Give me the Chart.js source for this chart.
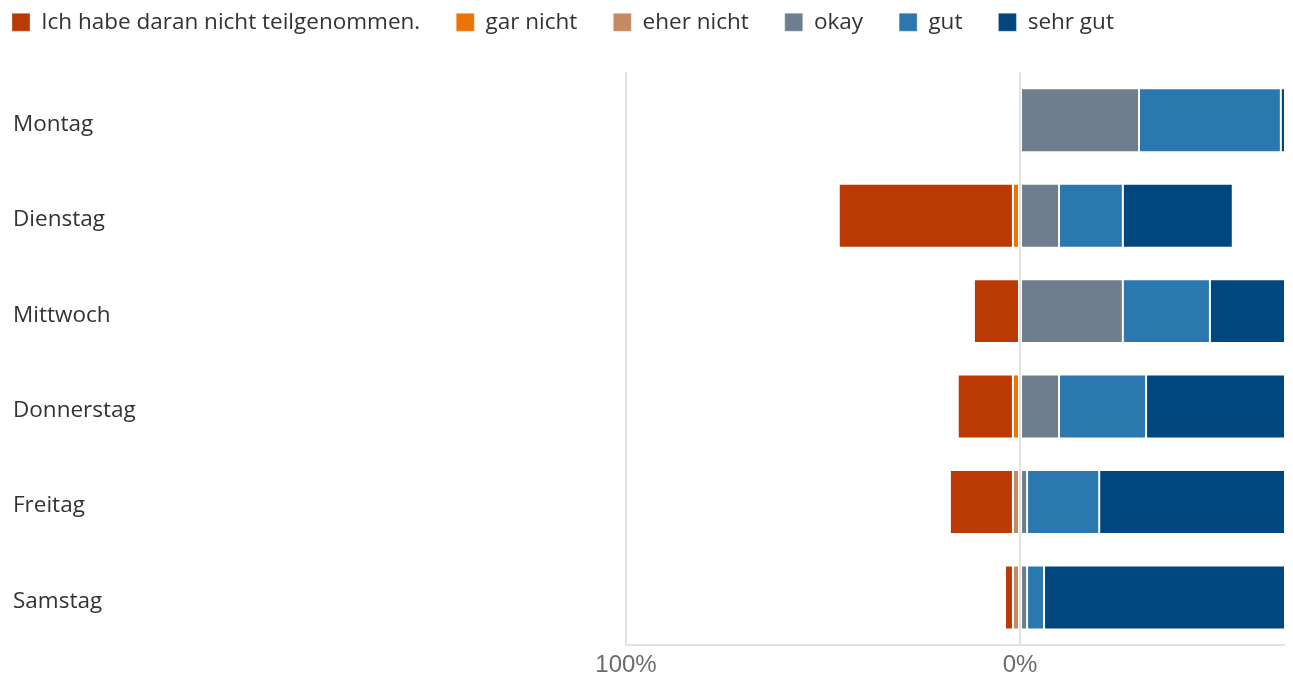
<!DOCTYPE html>
<html>
<head>
<meta charset="utf-8">
<script src="https://cdn.jsdelivr.net/npm/chart.js@4"></script>
<style>
  html, body { margin:0; padding:0; background:#fff; }
  #wrap { width:1293px; height:679px; position:relative; }
</style>
</head>
<body>
<div id="wrap"><canvas id="likert"></canvas></div>
<script>
// days of the week (categories)
const days = ['Montag','Dienstag','Mittwoch','Donnerstag','Freitag','Samstag'];

// shares in percent
// left side (drawn as negative values)
const nichtTeilgenommen = [0, 44.2, 11.7, 14.0, 16.0, 2.0];
const garNicht          = [0, 1.8, 0, 1.8, 0, 0];
const eherNicht         = [0, 0, 0, 0, 1.8, 1.8];
// right side
const okay    = [30.2, 9.9, 26.1, 9.9, 1.8, 1.8];
const gut     = [36.0, 16.2, 22.1, 22.1, 18.3, 4.3];
const sehrGut = [33.8, 27.9, 40.1, 52.2, 62.1, 90.1];

const xTicks = [-100, 0];

const neg = arr => arr.map(v => -v);

// order controls stacking: the nearer to zero, the lower the order
const series = [
  { label:'Ich habe daran nicht teilgenommen.', data:neg(nichtTeilgenommen), color:'#bb3a03', order:2 },
  { label:'gar nicht',  data:neg(garNicht),  color:'#ec7306', order:1 },
  { label:'eher nicht', data:neg(eherNicht), color:'#c58a62', order:0 },
  { label:'okay',       data:okay,           color:'#6e7e8f', order:3 },
  { label:'gut',        data:gut,            color:'#2b78b0', order:4 },
  { label:'sehr gut',   data:sehrGut,        color:'#01477f', order:5 }
];

const LEGEND_PAD = 36;

// legend padding also sets the gap between items, so move the box back
// to the page edge and up above the plot once layout is done
const legendShift = {
  id:'legendShift',
  afterLayout(chart){
    const lg = chart.legend;
    if(!lg) return;
    const dx = -(LEGEND_PAD + 1), dy = -29;
    lg.left += dx; lg.right += dx;
    lg.top += dy;  lg.bottom += dy;
  }
};

const ctx = document.getElementById('likert').getContext('2d');
new Chart(ctx, {
  type:'bar',
  data:{
    labels: days,
    datasets: series.map(s => ({
      label: s.label,
      data: s.data,
      order: s.order,
      backgroundColor: s.color,
      borderColor: 'rgba(255,255,255,0.3)',
      borderWidth: 1,
      borderSkipped: false,
      barPercentage: 0.67,
      categoryPercentage: 1
    }))
  },
  plugins:[legendShift],
  options:{
    indexAxis:'y',
    responsive:true,
    maintainAspectRatio:false,
    animation:false,
    layout:{ padding:{ top:4, left:13, right:9, bottom:-7 } },
    plugins:{
      tooltip:{ enabled:false },
      legend:{
        position:'top',
        align:'start',
        labels:{
          boxWidth:18, boxHeight:18, padding:LEGEND_PAD,
          color:'#333',
          font:{ family:'"Open Sans", sans-serif', size:22.5 },
          sort:(a,b)=>a.datasetIndex-b.datasetIndex
        }
      }
    },
    scales:{
      x:{
        stacked:true,
        min:-100, max:67,
        afterBuildTicks: sc => { sc.ticks = xTicks.map(v => ({value:v})); },
        grid:{ color:'#e3e3e3', lineWidth:2, drawTicks:false },
        border:{ display:true, color:'#e3e3e3', width:2 },
        ticks:{
          padding:6,
          color:'#6b6b6b',
          font:{ family:'"Liberation Sans", Arial, sans-serif', size:24 },
          callback: v => Math.abs(v) + '%'
        }
      },
      y:{
        stacked:true,
        afterFit: sc => { sc.width = 613; },
        grid:{ display:false },
        border:{ display:true, color:'#e3e3e3', width:2 },
        ticks:{
          crossAlign:'far',
          labelOffset:4,
          color:'#333',
          font:{ family:'"Open Sans", sans-serif', size:22.5 }
        }
      }
    }
  }
});
</script>
</body>
</html>
